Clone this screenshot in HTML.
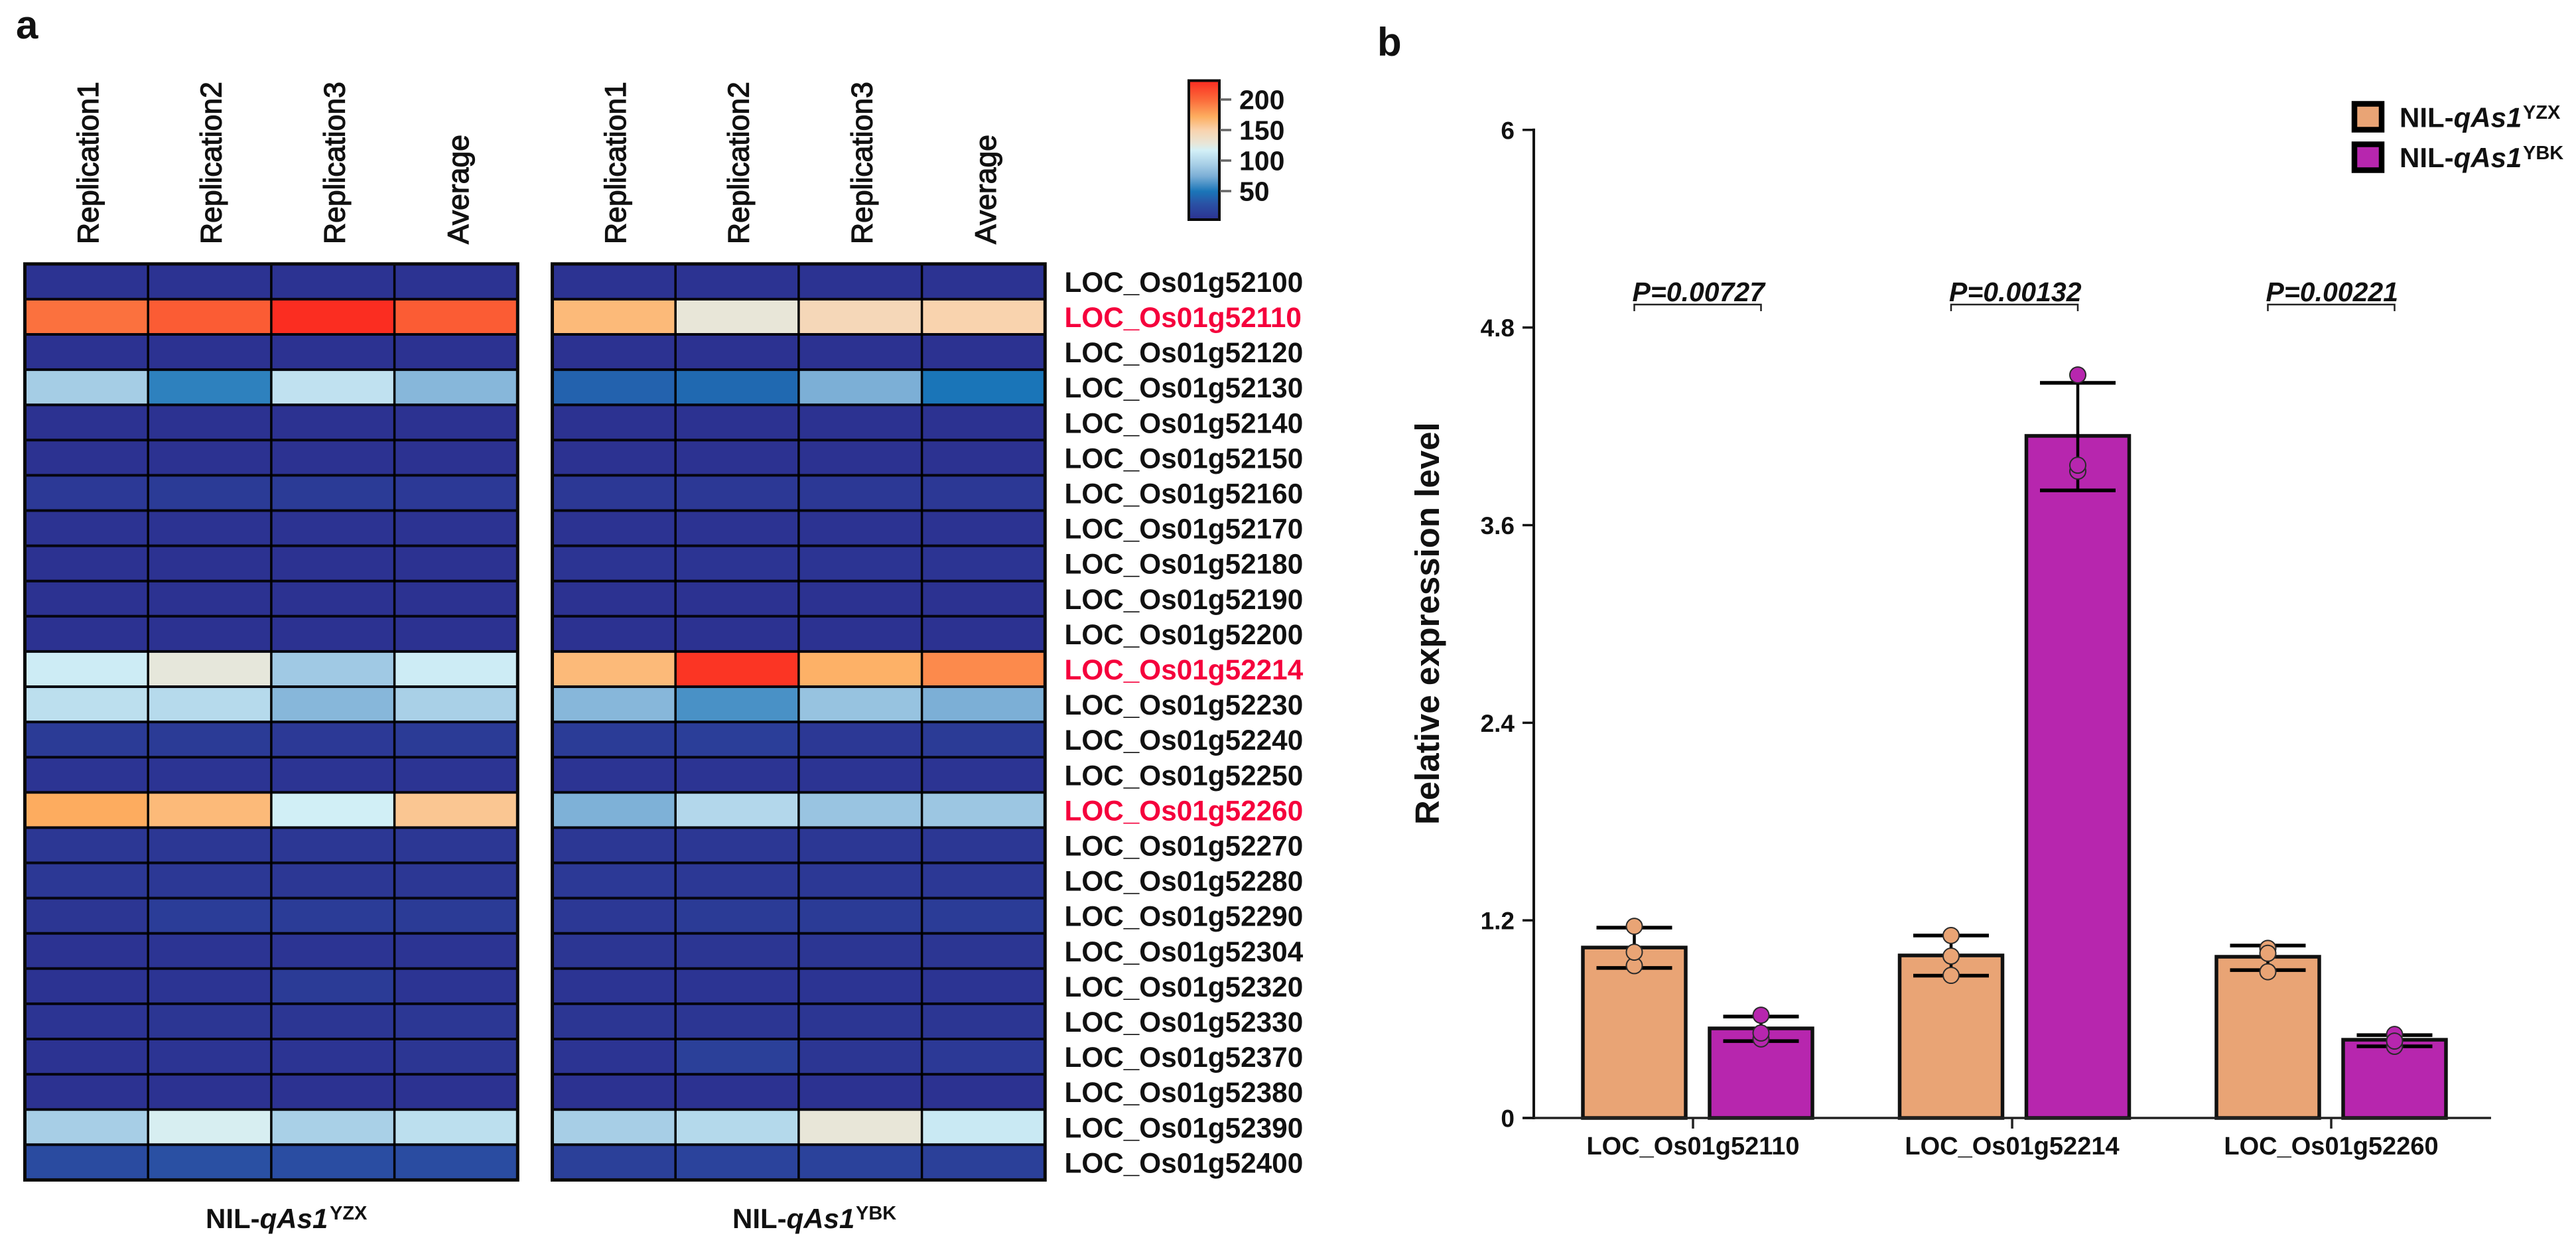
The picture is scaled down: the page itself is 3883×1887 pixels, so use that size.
<!DOCTYPE html>
<html lang="en">
<head>
<meta charset="utf-8">
<title>Heatmap and relative expression bar chart</title>
<style>
html,body{margin:0;padding:0;background:#fff}
svg{display:block}
text{font-family:"Liberation Sans",Arial,sans-serif;fill:#111}
.b{font-weight:bold}
</style>
</head>
<body>
<svg id="fig" xmlns="http://www.w3.org/2000/svg" width="3883" height="1887" viewBox="0 0 3883 1887">
  <defs>
    <linearGradient id="cbar" x1="0" y1="1" x2="0" y2="0"></linearGradient>
  </defs>
  <rect x="0" y="0" width="3883" height="1887" fill="#fff"/>
  <text class="b" x="24" y="58" font-size="60">a</text>
  <text class="b" x="2076" y="84" font-size="60">b</text>

  <g id="heat"></g>
  <g id="cb"></g>

  <text class="b" x="310" y="1851" font-size="42">NIL-<tspan font-style="italic">qAs1</tspan></text>
  <text class="b" x="497" y="1838" font-size="29">YZX</text>
  <text class="b" x="1104" y="1851" font-size="42">NIL-<tspan font-style="italic">qAs1</tspan></text>
  <text class="b" x="1290" y="1838" font-size="29">YBK</text>

  <g id="bars"></g>

  <text class="b" transform="translate(2169,1243) rotate(-90)" x="0" y="0" font-size="51">Relative expression level</text>

  <g>
    <rect x="3549" y="156.5" width="41" height="39" fill="#e9a475" stroke="#000" stroke-width="8.5"/>
    <text class="b" x="3617" y="191.5" font-size="42">NIL-<tspan font-style="italic">qAs1</tspan></text>
    <text class="b" x="3803" y="179" font-size="29">YZX</text>
    <rect x="3549" y="217.5" width="41" height="39" fill="#b726ae" stroke="#000" stroke-width="8.5"/>
    <text class="b" x="3617" y="252" font-size="42">NIL-<tspan font-style="italic">qAs1</tspan></text>
    <text class="b" x="3803" y="240" font-size="29">YBK</text>
  </g>
</svg>
<script>
/* ---------- heatmap data ---------- */
const geneLabels = ["LOC_Os01g52100","LOC_Os01g52110","LOC_Os01g52120","LOC_Os01g52130","LOC_Os01g52140","LOC_Os01g52150","LOC_Os01g52160","LOC_Os01g52170","LOC_Os01g52180","LOC_Os01g52190","LOC_Os01g52200","LOC_Os01g52214","LOC_Os01g52230","LOC_Os01g52240","LOC_Os01g52250","LOC_Os01g52260","LOC_Os01g52270","LOC_Os01g52280","LOC_Os01g52290","LOC_Os01g52304","LOC_Os01g52320","LOC_Os01g52330","LOC_Os01g52370","LOC_Os01g52380","LOC_Os01g52390","LOC_Os01g52400"];
const highlightedGenes = ["LOC_Os01g52110","LOC_Os01g52214","LOC_Os01g52260"];
const columnLabels = ["Replication1","Replication2","Replication3","Average"];
const heatYZX = [
[5,5,5,5],[197,207,230,207],[4,4,4,4],[93,55,107,80],[4,4,4,4],[4,4,4,4],[10,11,11,10],[5,5,5,5],[4,4,4,4],[4,4,4,4],[4,4,4,4],
[114,127,91,114],[105,102,80,95],[11,11,10,11],[6,6,6,6],[173,165,116,158],[8,8,8,8],[9,9,8,8],[7,13,12,11],[5,6,6,6],[5,6,11,6],[6,7,7,8],[5,6,6,7],[3,3,3,4],[94,119,95,105],[24,28,26,25]];
const heatYBK = [
[5,5,5,5],[165,128,145,150],[4,4,4,4],[39,43,75,50],[4,4,4,4],[4,4,4,4],[9,9,9,9],[5,5,5,5],[6,6,6,6],[4,4,4,4],[4,4,4,4],
[165,226,170,187],[80,62,87,75],[12,14,9,11],[6,6,6,6],[76,100,88,89],[8,8,8,8],[10,9,9,9],[9,11,11,12],[7,7,7,7],[6,6,6,6],[7,7,7,7],[6,15,7,10],[3,4,3,4],[94,101,128,112],[15,18,17,15]];
const scaleTicks = [200,150,100,50];
const scaleValues = [4,30,50,75,95,117,128,150,172,200,231];
const scaleColors = ["#2c3291","#2a52a5","#1a75b8","#7cafd6","#a9d0e7","#d3f0f7","#e8e6d8","#f9d3ae","#fdae60","#fb6a3a","#fb2b20"];

/* ---------- bar chart data ---------- */
const barCategories = ["LOC_Os01g52110","LOC_Os01g52214","LOC_Os01g52260"];
const yTicks = [0,1.2,2.4,3.6,4.8,6];
const yTickLabels = ["0","1.2","2.4","3.6","4.8","6"];
const meansYZX = [1.035,0.987,0.979];
const meansYBK = [0.544,4.142,0.475];
const errHighYZX = [1.156,1.108,1.047];
const errLowYZX = [0.911,0.864,0.898];
const errHighYBK = [0.616,4.464,0.503];
const errLowYBK = [0.467,3.811,0.435];
const pointsYZX = [[1.164,0.925,1.007],[1.108,0.866,0.983],[1.03,0.888,1.0]];
const pointsYBK = [[0.624,0.48,0.516],[4.512,3.928,3.964],[0.507,0.435,0.467]];
const pLabels = ["P=0.00727","P=0.00132","P=0.00221"];

/* ---------- helpers ---------- */
const NS = "http://www.w3.org/2000/svg";
function mk(parent, tag, attrs, txt){
  const el = document.createElementNS(NS, tag);
  for (const k in attrs) el.setAttribute(k, attrs[k]);
  if (txt !== undefined) el.textContent = txt;
  parent.appendChild(el);
  return el;
}
function hexRgb(h){return [1,3,5].map(i=>parseInt(h.substr(i,2),16));}
function colorOf(v){
  if (v <= scaleValues[0]) return scaleColors[0];
  for (let i=1;i<scaleValues.length;i++){
    if (v <= scaleValues[i]){
      const t=(v-scaleValues[i-1])/(scaleValues[i]-scaleValues[i-1]);
      const a=hexRgb(scaleColors[i-1]), b=hexRgb(scaleColors[i]);
      return "rgb("+a.map((c,j)=>Math.round(c+(b[j]-c)*t)).join(",")+")";
    }
  }
  return scaleColors[scaleColors.length-1];
}

/* ---------- heatmap ---------- */
const heat = document.getElementById("heat");
const cellW = 185.7, rowH = 53.1, heatTop = 397.8;
const rowY = i => heatTop + i*rowH;
function drawPanel(values, left, key){
  const colX = j => left + j*cellW;
  values.forEach((row,i)=>row.forEach((v,j)=>{
    const c = mk(heat,"rect",{x:colX(j),y:rowY(i),width:cellW,height:rowH,fill:colorOf(v)});
    
    
  }));
  for (let i=1;i<values.length;i++){
    const l = mk(heat,"line",{x1:left,x2:colX(4),y1:rowY(i),y2:rowY(i),stroke:"#05050f","stroke-width":4});
    
    
  }
  for (let j=1;j<4;j++){
    const l = mk(heat,"line",{x1:colX(j),x2:colX(j),y1:rowY(0),y2:rowY(values.length),stroke:"#000","stroke-width":3.5});
    
    
  }
  const f = mk(heat,"rect",{x:left,y:rowY(0),width:4*cellW,height:values.length*rowH,fill:"none",stroke:"#0a0a0a","stroke-width":5});
  
  
  columnLabels.forEach((t,j)=>{
    const bx = colX(j) + 110.5 + (j===3?1:0);
    const lb = mk(heat,"text",{transform:"translate("+bx+",368) rotate(-90)","font-size":44.5,"stroke":"#111","stroke-width":1.2},t);
    
    
  });
}
drawPanel(heatYZX, 37.5, "yzx");
drawPanel(heatYBK, 832.5, "ybk");
geneLabels.forEach((g,i)=>{
  const hl = highlightedGenes.includes(g);
  const lb = mk(heat,"text",{x:1604.5,y:rowY(i)+rowH/2+15.5,"font-size":42.3,"font-weight":"bold",style:"fill:"+(hl?"#f5003c":"#111")},g);
  
  
});

/* ---------- colour scale ---------- */
const cbTop = 121.5, cbBottom = 331, cbX = 1792, cbW = 46;
const grad = document.getElementById("cbar");
scaleValues.forEach((v,i)=>{
  mk(grad,"stop",{offset:(v-4)/(231-4),"stop-color":scaleColors[i]});
});
const cb = document.getElementById("cb");
const cbY = v => 288 - (v-50)*46/50;
const cbr = mk(cb,"rect",{x:cbX,y:cbTop,width:cbW,height:cbBottom-cbTop,fill:"url(#cbar)",stroke:"#0a0a0a","stroke-width":4});


scaleTicks.forEach(v=>{
  const t = mk(cb,"line",{x1:cbX+cbW+1,x2:1856,y1:cbY(v),y2:cbY(v),stroke:"#666","stroke-width":3.5});
  
  
  const l = mk(cb,"text",{x:1868,y:cbY(v)+14.5,"font-size":41,"font-weight":"bold"},String(v));
  
  
});

/* ---------- bar chart ---------- */
const bars = document.getElementById("bars");
const axisX = 2312, baseY = 1685, pxPerUnit = 248.2;
const y = v => baseY - v*pxPerUnit;
const groupX = i => 2559 + i*477.5;
const tickX = i => 2552 + i*481;
const barW = 155, barOff = 95.5, capW = 114;

function drawBar(i, side, mean, hi, lo, pts, fill, key){
  const cx = groupX(i) + side*barOff;
  const r = mk(bars,"rect",{x:cx-barW/2,y:y(mean),width:barW,height:baseY-y(mean),fill:fill,stroke:"#111","stroke-width":5.5});
  
  
  const st = mk(bars,"line",{x1:cx,x2:cx,y1:y(hi),y2:y(lo),stroke:"#000","stroke-width":4.5});
  
  
  [hi,lo].forEach(v=>{
    const c = mk(bars,"line",{x1:cx-capW/2,x2:cx+capW/2,y1:y(v),y2:y(v),stroke:"#000","stroke-width":5.5});
    
    
  });
  pts.forEach(v=>{
    const d = mk(bars,"circle",{cx:cx,cy:y(v),r:12,fill:fill,stroke:"#2a2a2a","stroke-width":2});
    
    
  });
}
barCategories.forEach((cat,i)=>{
  drawBar(i,-1,meansYZX[i],errHighYZX[i],errLowYZX[i],pointsYZX[i],"#e9a475","yzx");
  drawBar(i, 1,meansYBK[i],errHighYBK[i],errLowYBK[i],pointsYBK[i],"#b726ae","ybk");
  const tx = tickX(i);
  const t = mk(bars,"line",{x1:tx,x2:tx,y1:baseY,y2:baseY+16,stroke:"#222","stroke-width":3.5});
  
  
  const l = mk(bars,"text",{x:tx,y:1740,"font-size":38,"text-anchor":"middle","font-weight":"bold"},cat);
  
  
  const x1 = groupX(i)-barOff, x2 = groupX(i)+barOff;
  const br = mk(bars,"path",{d:"M"+x1+" 469V459H"+x2+"V469",fill:"none",stroke:"#222","stroke-width":2.5});
  
  
  const p = mk(bars,"text",{x:x1-3,y:454,"font-size":41,"font-style":"italic","font-weight":"bold"},pLabels[i]);
  
  
});
const ax = mk(bars,"line",{x1:axisX,x2:axisX,y1:y(6)-2,y2:baseY+2,stroke:"#111","stroke-width":4});


const xax = mk(bars,"line",{x1:2295,x2:3755,y1:baseY,y2:baseY,stroke:"#222","stroke-width":3.5});


yTicks.forEach((v,i)=>{
  const t = mk(bars,"line",{x1:2295,x2:axisX,y1:y(v),y2:y(v),stroke:"#111","stroke-width":3.5});
  
  
  const l = mk(bars,"text",{x:2283,y:y(v)+13.5,"font-size":37,"text-anchor":"end","font-weight":"bold"},yTickLabels[i]);
  
  
});
</script>
</body>
</html>
